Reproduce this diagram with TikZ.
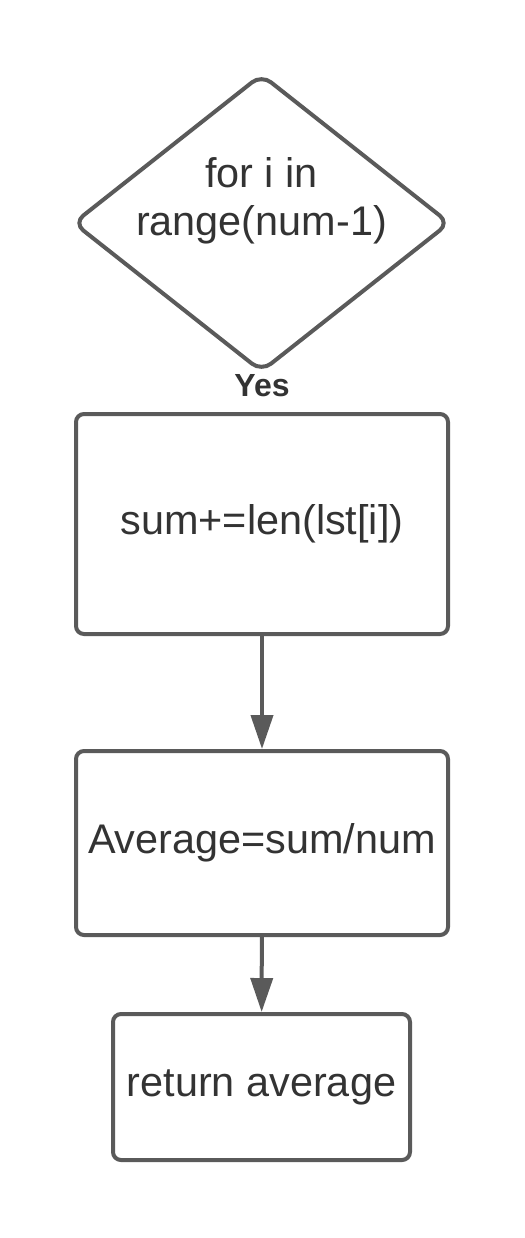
\documentclass[tikz,border=0pt]{standalone}
\usepackage{fontspec}
\setmainfont{Liberation Sans}
\usetikzlibrary{shapes.geometric,arrows.meta}
\definecolor{linegray}{RGB}{90,90,90}
\definecolor{textgray}{RGB}{51,51,51}

\begin{document}
\begin{tikzpicture}[x=0.5pt,y=-0.5pt,
  box/.style={draw=linegray, line width=2pt, rounded corners=4pt, text=textgray,
    font=\fontsize{20.7}{24}\selectfont, align=center, inner sep=0pt},
  decision/.style={box, diamond, rounded corners=6pt, minimum width=188.5pt, minimum height=149pt},
  decisiontext/.style={text=textgray, font=\fontsize{20.7}{24}\selectfont, align=center, inner sep=0pt},
  flow/.style={draw=linegray, line width=2pt, -{Triangle[length=17pt,width=11pt]}}]
\useasboundingbox (0,0) rectangle (525,1238);

\node [decision, label={[decisiontext, yshift=11pt]center:{for i in\\range(num-1)}}] (loop) at (261.5,223) {};
\node [text=textgray, font=\fontsize{16}{19}\selectfont\bfseries] (yes) at (262,386) {Yes};

\node [box, minimum width=186pt, minimum height=110pt] (sum) at (262,524) {sum+=len(lst[i])};
\node [box, minimum width=186pt, minimum height=92pt] (avg) at (262,843) {Average=sum/num};
\node [box, minimum width=148.5pt, minimum height=73pt] (ret) at (261.5,1087) {return average};

\draw [flow] (sum) -- (avg);
\draw [flow] (avg) -- (ret);
\end{tikzpicture}
\end{document}
